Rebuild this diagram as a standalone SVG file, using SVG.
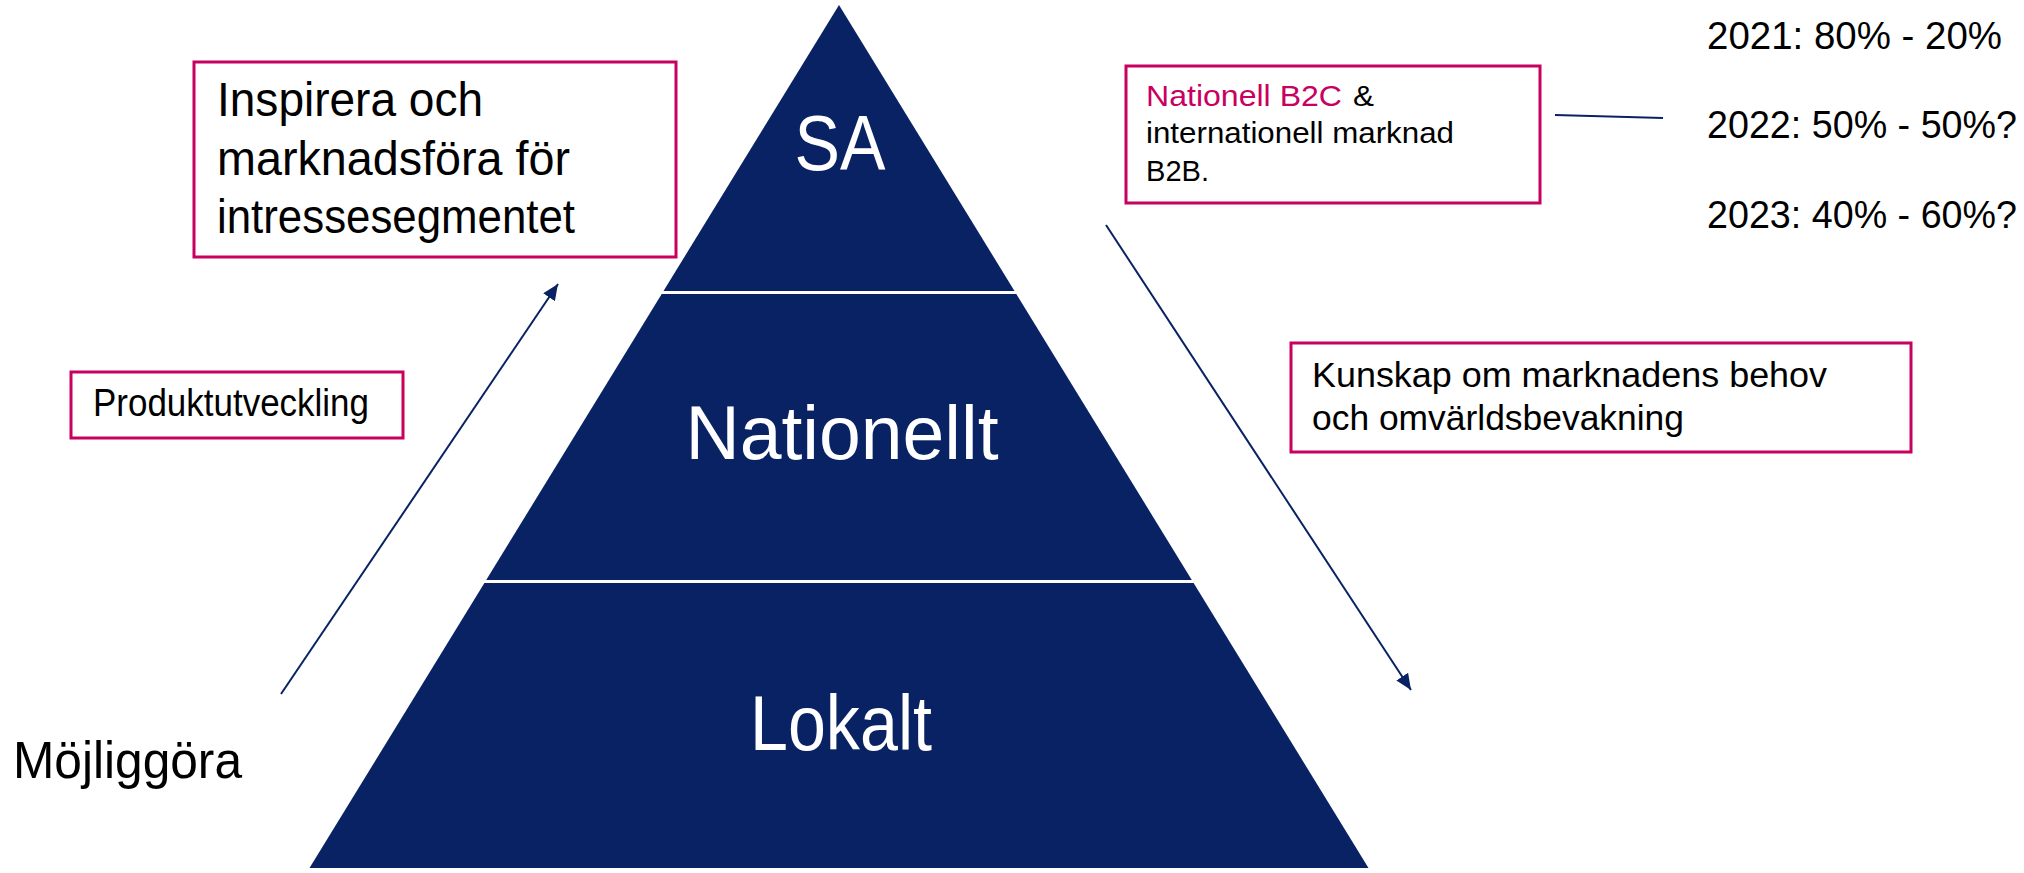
<svg xmlns="http://www.w3.org/2000/svg" width="2024" height="873" viewBox="0 0 2024 873">
<style>
.t{font-family:"Liberation Sans",Arial,sans-serif;fill:#000}
.w{font-family:"Liberation Sans",Arial,sans-serif;fill:#fff;text-anchor:middle}
.p{fill:#c8005f}
.box{fill:#fff;stroke:#c8005f;stroke-width:3}
.layer{fill:#082263}
.conn{stroke:#082263;stroke-width:2;fill:none}
</style>
<defs>
<marker id="ah" markerUnits="userSpaceOnUse" markerWidth="18" markerHeight="14" refX="16" refY="7" orient="auto">
<path d="M0,0 L16,7 L0,14 z" fill="#082263"/>
</marker>
</defs>
<rect width="2024" height="873" fill="#fff"/>
<g id="layer-sa">
<polygon class="layer" points="839,5 663.5,291 1014.5,291"/>
<text class="w" x="840" y="170" font-size="78" textLength="91" lengthAdjust="spacingAndGlyphs">SA</text>
</g>
<g id="layer-nationellt">
<polygon class="layer" points="661.7,294 1016.3,294 1191.8,580 486.2,580"/>
<text class="w" x="842" y="459" font-size="76" textLength="313" lengthAdjust="spacingAndGlyphs">Nationellt</text>
</g>
<g id="layer-lokalt">
<polygon class="layer" points="484.4,583 1193.6,583 1368.5,868 309.5,868"/>
<text class="w" x="841" y="750" font-size="78" textLength="182" lengthAdjust="spacingAndGlyphs">Lokalt</text>
</g>
<g id="box-inspirera">
<rect class="box" x="194" y="62" width="482" height="195"/>
<text class="t" x="217" y="116" font-size="48" textLength="266" lengthAdjust="spacingAndGlyphs">Inspirera och</text>
<text class="t" x="217" y="175" font-size="48" textLength="353" lengthAdjust="spacingAndGlyphs">marknadsföra för</text>
<text class="t" x="217" y="233" font-size="48" textLength="358" lengthAdjust="spacingAndGlyphs">intressesegmentet</text>
</g>
<g id="box-produktutveckling">
<rect class="box" x="71" y="372" width="332" height="66"/>
<text class="t" x="93" y="416" font-size="38" textLength="276" lengthAdjust="spacingAndGlyphs">Produktutveckling</text>
</g>
<g id="label-mojliggora">
<text class="t" x="13" y="778" font-size="52" textLength="229" lengthAdjust="spacingAndGlyphs">Möjliggöra</text>
</g>
<g id="box-nationell">
<rect class="box" x="1126" y="66" width="414" height="137"/>
<text class="t p" x="1146" y="106" font-size="29" textLength="196" lengthAdjust="spacingAndGlyphs">Nationell B2C</text>
<text class="t" x="1353" y="106" font-size="29" textLength="21" lengthAdjust="spacingAndGlyphs">&amp;</text>
<text class="t" x="1146" y="143" font-size="29" textLength="308" lengthAdjust="spacingAndGlyphs">internationell marknad</text>
<text class="t" x="1146" y="181" font-size="29" textLength="63" lengthAdjust="spacingAndGlyphs">B2B.</text>
</g>
<g id="box-kunskap">
<rect class="box" x="1291" y="343" width="620" height="109"/>
<text class="t" x="1312" y="387" font-size="35" textLength="515" lengthAdjust="spacingAndGlyphs">Kunskap om marknadens behov</text>
<text class="t" x="1312" y="430" font-size="35" textLength="372" lengthAdjust="spacingAndGlyphs">och omvärldsbevakning</text>
</g>
<g id="label-years">
<text class="t" x="1707" y="49" font-size="38" textLength="295" lengthAdjust="spacingAndGlyphs">2021: 80% - 20%</text>
<text class="t" x="1707" y="138" font-size="38" textLength="310" lengthAdjust="spacingAndGlyphs">2022: 50% - 50%?</text>
<text class="t" x="1707" y="228" font-size="38" textLength="310" lengthAdjust="spacingAndGlyphs">2023: 40% - 60%?</text>
</g>
<g id="connectors">
<line class="conn" x1="281" y1="694" x2="558" y2="284" marker-end="url(#ah)"/>
<line class="conn" x1="1106" y1="225" x2="1411" y2="690" marker-end="url(#ah)"/>
<line class="conn" x1="1555" y1="115" x2="1663" y2="118" stroke-width="2.5"/>
</g>
</svg>
